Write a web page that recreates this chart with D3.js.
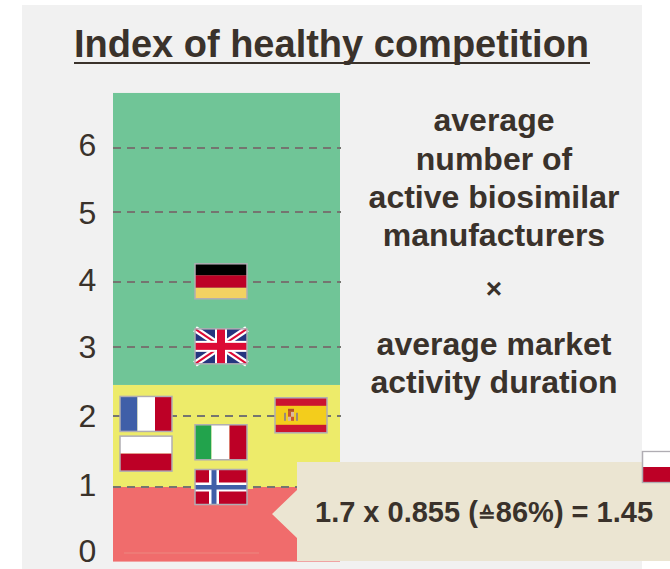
<!DOCTYPE html>
<html>
<head>
<meta charset="utf-8">
<script src="https://cdnjs.cloudflare.com/ajax/libs/d3/7.8.5/d3.min.js"></script>
<style>
  html, body { margin: 0; padding: 0; background: #fff; }
  svg { display: block; font-family: "Liberation Sans", Arial, sans-serif; }
</style>
</head>
<body>
<div id="chart"></div>
<script>
// data
var tickValues = [0, 1, 2, 3, 4, 5, 6];
var zoneEdges = [-0.13, 1, 2.45, 6.86];
var zoneColors = ["#f06c6c", "#edeb6a", "#70c597"];
var flagNames = ["germany", "uk", "france", "spain", "italy", "poland", "norway"];
var flagValues = [4.01, 3.01, 2.03, 2.01, 1.63, 1.47, 1.0];
var flagColumns = ["mid", "mid", "left", "right", "mid", "left", "mid"];
var columns = ["left", "mid", "right"];
var titleText = "Index of healthy competition";
var formulaLines = ["average", "number of", "active biosimilar", "manufacturers", "×", "average market", "activity duration"];
var calloutParts = ["1.7 x 0.855 (", "≙", "86%) = 1.45"];

var width = 670, height = 569;
var ink = "#3a322b";
var flagW = 52, flagH = 35;

// the gridlines in the original are not quite evenly spaced
var y = d3.scaleLinear().domain(tickValues).range([553, 487, 416, 347, 282, 212, 148]);
var labelY = d3.scaleLinear().domain(tickValues).range([551, 485, 416, 347, 280, 213, 145]);
var x = d3.scaleOrdinal().domain(columns).range([146, 221, 301]);

var svg = d3.select("#chart").append("svg")
  .attr("width", width)
  .attr("height", height);

// panel
svg.append("rect").attr("x", 22).attr("y", 5).attr("width", 620).attr("height", 564).attr("fill", "#f1f1f1");

// title
svg.append("text").attr("x", 331.5).attr("y", 57).attr("text-anchor", "middle")
  .attr("font-size", 38).attr("font-weight", "bold").attr("fill", ink).text(titleText);
svg.append("rect").attr("x", 74).attr("y", 62).attr("width", 516).attr("height", 2).attr("fill", ink);

// colour zones
svg.selectAll(".zone").data(zoneColors).enter().append("rect")
  .attr("class", "zone")
  .attr("x", 113).attr("width", 227)
  .attr("y", function(d, i) { return y(zoneEdges[i + 1]); })
  .attr("height", function(d, i) { return y(zoneEdges[i]) - y(zoneEdges[i + 1]); })
  .attr("fill", function(d) { return d; });

// gridlines
svg.selectAll(".grid").data(tickValues).enter().append("line")
  .attr("class", "grid")
  .attr("x1", function(d) { return d === 0 ? 124 : 113; })
  .attr("x2", function(d) { return d === 0 ? 259 : 341; })
  .attr("y1", function(d) { return y(d); })
  .attr("y2", function(d) { return y(d); })
  .attr("stroke", function(d) { return d === 0 ? "#ee7a76" : "#757570"; })
  .attr("stroke-width", 2)
  .attr("stroke-dasharray", function(d) { return d === 0 ? null : "8 6"; });

// tick labels
svg.selectAll(".tick").data(tickValues).enter().append("text")
  .attr("class", "tick")
  .attr("x", 87.5)
  .attr("y", function(d) { return labelY(d) + 11; })
  .attr("text-anchor", "middle")
  .attr("font-size", 32)
  .attr("fill", ink)
  .text(function(d) { return d; });

// flags are drawn in a 52x35 box
function drawFlag(g, name) {
  function r(fx, fy, fw, fh, fill) {
    g.append("rect").attr("x", fx).attr("y", fy).attr("width", fw).attr("height", fh).attr("fill", fill);
  }
  var red = "#bd0026";
  if (name === "germany") {
    r(0, 0, 52, 11.5, "#000"); r(0, 11.5, 52, 12.5, red); r(0, 24, 52, 11, "#f2d262");
  } else if (name === "france") {
    r(0, 0, 17.5, 35, "#3f5fa8"); r(17.5, 0, 17.5, 35, "#fff"); r(35, 0, 17, 35, red);
  } else if (name === "italy") {
    r(0, 0, 16.5, 35, "#22a34c"); r(16.5, 0, 18, 35, "#fff"); r(34.5, 0, 17.5, 35, red);
  } else if (name === "poland") {
    r(0, 0, 52, 17.5, "#fff"); r(0, 17.5, 52, 17.5, red);
  } else if (name === "spain") {
    r(0, 0, 52, 35, "#cb1430"); r(0, 8, 52, 19, "#f3cd1c");
    // small coat of arms
    r(13, 14, 3, 5, "#c8562e"); r(16, 14, 3, 5, "#d9b9a0"); r(13, 19, 3, 4, "#d9b9a0"); r(16, 19, 3, 4, "#c8562e");
    r(13, 11, 6, 3, "#b5512a");
    r(9, 15, 2, 8, "#9a8a7a"); r(21, 15, 2, 8, "#9a8a7a");
  } else if (name === "norway") {
    r(0, 0, 52, 35, red);
    r(14, 0, 10, 35, "#fff"); r(0, 13, 52, 9, "#fff");
    r(16.5, 0, 5, 35, "#3f5fa8"); r(0, 15.5, 52, 4.5, "#3f5fa8");
  } else if (name === "uk") {
    r(0, 0, 52, 35, "#25357f");
    var diag = [[0, 0, 52, 35], [52, 0, 0, 35]];
    diag.forEach(function(p) {
      g.append("line").attr("x1", p[0]).attr("y1", p[1]).attr("x2", p[2]).attr("y2", p[3]).attr("stroke", "#fff").attr("stroke-width", 6.5);
      g.append("line").attr("x1", p[0]).attr("y1", p[1]).attr("x2", p[2]).attr("y2", p[3]).attr("stroke", "#dc0a35").attr("stroke-width", 2);
    });
    r(20, 0, 12, 35, "#fff"); r(0, 12, 52, 11, "#fff");
    r(22, 0, 8, 35, "#dc0a35"); r(0, 14, 52, 7, "#dc0a35");
  }
  g.append("rect").attr("width", flagW).attr("height", flagH)
    .attr("fill", "none").attr("stroke", "#b0adb3").attr("stroke-width", 1.5);
}

flagNames.forEach(function(name, i) {
  var cx = x(flagColumns[i]), cy = y(flagValues[i]);
  // the dashes stop a little short of the flags in the middle column
  if (flagColumns[i] === "mid" && ["germany", "uk", "norway"].indexOf(name) >= 0) {
    svg.append("rect").attr("x", cx - 30).attr("y", y(Math.round(flagValues[i])) - 2).attr("width", 62).attr("height", 4)
      .attr("fill", name === "norway" ? zoneColors[1] : zoneColors[2]);
  }
  var g = svg.append("g")
    .attr("transform", "translate(" + (cx - flagW / 2) + "," + (cy - flagH / 2) + ")");
  drawFlag(g, name);
});

// formula text on the right
var formulaY = [131, 170, 208, 246, 298, 355, 393];
svg.selectAll(".formula").data(formulaLines).enter().append("text")
  .attr("class", "formula")
  .attr("x", 494)
  .attr("y", function(d, i) { return formulaY[i]; })
  .attr("text-anchor", "middle")
  .attr("font-size", function(d) { return d === "×" ? 28 : 32; })
  .attr("font-weight", "bold")
  .attr("fill", ink)
  .text(function(d) { return d; });

// callout
svg.append("path")
  .attr("d", "M272,514L297,490V462H670V561H297V538Z")
  .attr("fill", "#ebe5d2");
svg.append("text").attr("x", 315).attr("y", 522)
  .attr("font-size", 29).attr("font-weight", "bold").attr("fill", ink)
  .selectAll("tspan").data(calloutParts).enter().append("tspan")
  .attr("font-size", function(d) { return d === "≙" ? 21 : null; })
  .text(function(d) { return d; });

// cut off flag at the right edge, squashed a little in the original
var cut = svg.append("g").attr("transform", "translate(642.5,451.5) scale(1," + (31 / flagH) + ")");
drawFlag(cut, "poland");
</script>
</body>
</html>
